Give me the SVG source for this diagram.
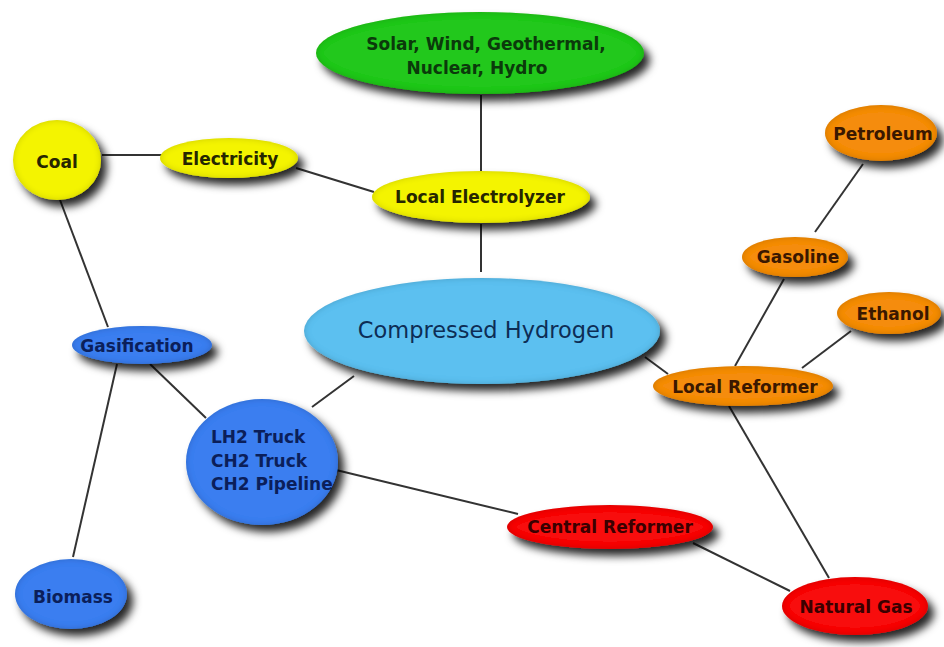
<svg xmlns="http://www.w3.org/2000/svg" width="944" height="647" viewBox="0 0 944 647">
<defs>
<filter id="sh" x="-30%" y="-30%" width="170%" height="180%">
<feGaussianBlur in="SourceAlpha" stdDeviation="4" result="b"/>
<feOffset in="b" dx="6" dy="7" result="o"/>
<feFlood flood-color="#000" flood-opacity="0.85"/>
<feComposite in2="o" operator="in" result="s"/>
<feGaussianBlur in="SourceAlpha" stdDeviation="3" result="ib"/>
<feComposite in="SourceAlpha" in2="ib" operator="out" result="edge"/>
<feFlood flood-color="#000" flood-opacity="0.35"/>
<feComposite in2="edge" operator="in" result="edgeS"/>
<feMerge><feMergeNode in="s"/><feMergeNode in="SourceGraphic"/><feMergeNode in="edgeS"/></feMerge>
</filter>
</defs>
<style>
.n{filter:url(#sh)}
.t{font-family:"DejaVu Sans",Verdana,sans-serif;font-size:17px;font-weight:bold;text-anchor:middle}
.ts{text-anchor:start}
.lines line{stroke:#333;stroke-width:2}
.g{fill:#22c81a}.y{fill:#f4f400}.lb{fill:#5cc0f0}.b{fill:#3b7ef0}.o{fill:#f58c0c}.r{fill:#f80a0a}
.tg{fill:#0b3a0b}.ty{fill:#262600}.tlb{fill:#0d2d55}.tb{fill:#0b1f5a}.to{fill:#3a1800}.tr{fill:#3a0000}
</style>
<rect width="944" height="647" fill="#fff"/>
<g id="connectors" class="lines">
<line x1="481" y1="95" x2="481" y2="172"/>
<line x1="102" y1="155" x2="162" y2="155"/>
<line x1="296" y1="168" x2="374" y2="192"/>
<line x1="481" y1="224" x2="481" y2="272"/>
<line x1="60" y1="200" x2="108" y2="327"/>
<line x1="117" y1="364" x2="73" y2="557"/>
<line x1="150" y1="364" x2="206" y2="418"/>
<line x1="312" y1="407" x2="354" y2="376"/>
<line x1="336" y1="470" x2="518" y2="514"/>
<line x1="693" y1="543" x2="790" y2="591"/>
<line x1="729" y1="406" x2="829" y2="578"/>
<line x1="645" y1="357" x2="668" y2="374"/>
<line x1="735" y1="366" x2="784" y2="279"/>
<line x1="802" y1="368" x2="851" y2="331"/>
<line x1="815" y1="232" x2="863" y2="164"/>
</g>
<g id="renewables"><ellipse class="n g" cx="480" cy="53" rx="164" ry="41"/>
<text class="t tg" x="486" y="50">Solar, Wind, Geothermal,</text><text class="t tg" x="477" y="74">Nuclear, Hydro</text></g>
<g id="coal"><ellipse class="n y" cx="57" cy="160" rx="44" ry="40"/><text class="t ty" x="57" y="168">Coal</text></g>
<g id="electricity"><ellipse class="n y" cx="229" cy="158" rx="69" ry="20"/><text class="t ty" x="230" y="165">Electricity</text></g>
<g id="electrolyzer"><ellipse class="n y" cx="481" cy="197" rx="109" ry="26"/><text class="t ty" x="480" y="203">Local Electrolyzer</text></g>
<g id="compressed"><ellipse class="n lb" cx="482" cy="331" rx="178" ry="53"/><text class="tlb" x="486" y="338" font-family="DejaVu Sans,Verdana,sans-serif" font-size="22.5" text-anchor="middle">Compressed Hydrogen</text></g>
<g id="petroleum"><ellipse class="n o" cx="881" cy="133" rx="56" ry="28"/><text class="t to" x="883" y="140">Petroleum</text></g>
<g id="gasoline"><ellipse class="n o" cx="795" cy="257" rx="53" ry="20"/><text class="t to" x="798" y="263">Gasoline</text></g>
<g id="ethanol"><ellipse class="n o" cx="889" cy="313" rx="52" ry="21"/><text class="t to" x="893" y="320">Ethanol</text></g>
<g id="local-reformer"><ellipse class="n o" cx="743" cy="386" rx="90" ry="20"/><text class="t to" x="745" y="393">Local Reformer</text></g>
<g id="gasification"><ellipse class="n b" cx="142" cy="345" rx="70" ry="19"/><text class="t tb" x="137" y="352">Gasification</text></g>
<g id="transport"><ellipse class="n b" cx="262" cy="462" rx="76" ry="63"/>
<text class="t ts tb" x="211" y="443">LH2 Truck</text><text class="t ts tb" x="211" y="467">CH2 Truck</text><text class="t ts tb" x="211" y="490">CH2 Pipeline</text></g>
<g id="central-reformer"><ellipse class="n r" cx="610" cy="527" rx="103" ry="22"/><text class="t tr" x="610" y="533">Central Reformer</text></g>
<g id="natural-gas"><ellipse class="n r" cx="855" cy="606" rx="73" ry="29"/><text class="t tr" x="856" y="613">Natural Gas</text></g>
<g id="biomass"><ellipse class="n b" cx="71" cy="594" rx="56" ry="35"/><text class="t tb" x="73" y="603">Biomass</text></g>
</svg>
